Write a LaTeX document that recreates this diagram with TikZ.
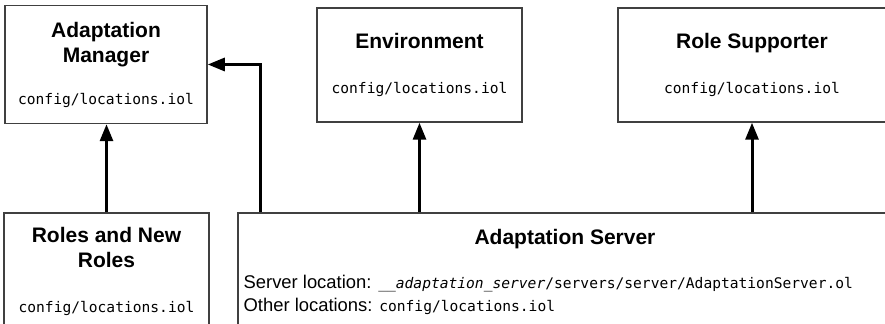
\documentclass[tikz,border=0pt]{standalone}
\usepackage{fontspec}
\setmainfont{Liberation Sans}
\setmonofont{DejaVu Sans Mono}
\usetikzlibrary{arrows.meta,positioning}

\newcommand{\cfgfont}{\normalfont\ttfamily\fontsize{7.3}{9}\selectfont}

\begin{document}
\begin{tikzpicture}[
		x=0.5pt, y=-0.5pt,
		arrow/.style={-{Triangle[length=8.5pt,width=6.5pt]}, line width=1.5pt},
		block/.style={draw=black!75, line width=0.75pt, minimum height=57pt, align=center, inner sep=0pt, font=\fontsize{10.5}{12.5}\selectfont\bfseries},
		title/.style={inner sep=0pt, font=\fontsize{10.5}{12.5}\selectfont\bfseries},
		locs/.style={inner sep=0pt, align=left, font=\fontsize{9.2}{11.5}\selectfont},
	]
		\clip (0,0) rectangle (885,324);
		\node (am) [block, minimum width=101pt, minimum height=59pt] at (106,64.5) {Adaptation\\Manager\\[8.5pt]{\cfgfont config/locations.iol}};
		\node (env) [block, minimum width=102.5pt] at (419.5,65) {Environment\\[10pt]{\cfgfont config/locations.iol}};
		\node (rs) [block, minimum width=134pt] at (752,65) {Role Supporter\\[10pt]{\cfgfont config/locations.iol}};
		\node (roles) [block, minimum width=102.5pt, minimum height=58pt] at (106.5,271) {Roles and New\\Roles\\[10pt]{\cfgfont config/locations.iol}};
		\node (srv) [block, minimum width=327pt, minimum height=58pt] at (565,271) {};
		\node (srvtitle) [title, below=8.5pt of srv.north] {Adaptation Server};
		\node (srvloc) [locs, below right=31.5pt and 3pt of srv.north west] {Server location: {\cfgfont\itshape \_\_adaptation\_server}{\cfgfont /servers/server/AdaptationServer.ol}\\Other locations: {\cfgfont config/locations.iol}};
		\coordinate (amin) at ([xshift=11.5pt]srv.north west);
		
		\draw[arrow] (roles.north) -- (roles.north |- am.south);
		\draw[arrow] (amin) |- (am.east);
		\draw[arrow] (env |- srv.north) -- (env);
		\draw[arrow] (rs |- srv.north) -- (rs);
	\end{tikzpicture}
\end{document}
